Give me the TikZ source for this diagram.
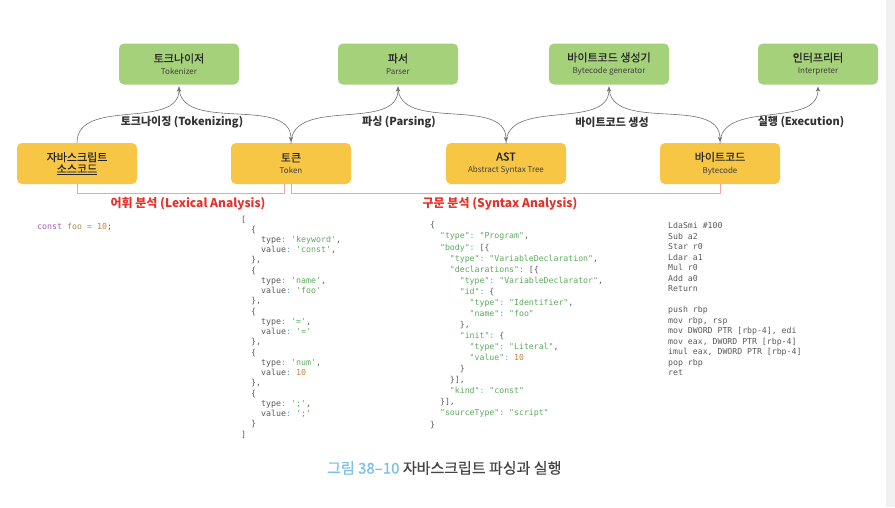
\documentclass[tikz,border=0pt]{standalone}
\usepackage{fontspec}
\setmainfont{Noto Sans CJK KR}
\newfontfamily\krmed[FakeBold=0.6]{Noto Sans CJK KR}
\setmonofont{DejaVu Sans Mono}
\usetikzlibrary{arrows.meta}
\definecolor{boxgreen}{HTML}{A6D17B}
\definecolor{boxyellow}{HTML}{F6C644}
\definecolor{arrowgray}{HTML}{707070}
\definecolor{brk}{HTML}{F4A3A3}
\definecolor{lblred}{HTML}{E8302A}
\definecolor{labeldark}{HTML}{333333}
\definecolor{titledark}{HTML}{262626}
\definecolor{subdark}{HTML}{404040}
\definecolor{codegray}{HTML}{5A5A5A}
\definecolor{cgreen}{HTML}{5DAA5D}
\definecolor{cblue}{HTML}{5AA8D8}
\definecolor{corange}{HTML}{C4843C}
\definecolor{cpurple}{HTML}{A45CB4}
\definecolor{cbrown}{HTML}{A8905A}
\definecolor{capblue}{HTML}{7CC0EA}
\definecolor{capgray}{HTML}{444444}
\definecolor{edgegray}{HTML}{F1F1F1}
\newcommand\ind[1]{\hspace*{\dimexpr\fontcharwd\font`x*#1\relax}}
\newcommand\cs[1]{\textcolor{cgreen}{#1}}
\newcommand\cl{\textcolor{cblue}{:}}
\newcommand\cn[1]{\textcolor{corange}{#1}}
\newcommand\ttl[1]{{\krmed\fontsize{11}{12}\selectfont\color{titledark}#1}}
\newcommand\sub[1]{{\color{subdark}#1}}
\begin{document}
\begin{tikzpicture}[x=1pt,y=-1pt,
  gbox/.style={draw=none, fill=boxgreen, rounded corners=5pt, minimum width=120pt, minimum height=41pt, inner sep=0pt, align=center, font=\fontsize{8}{12}\selectfont},
  ybox/.style={gbox, fill=boxyellow},
  flow/.style={draw=arrowgray, line width=0.6pt, -{Stealth[length=5pt,width=4.5pt]}, shorten >=2pt},
  steplbl/.style={font=\bfseries\fontsize{11}{13}\selectfont, text=labeldark, inner sep=0pt},
  bracket/.style={draw=brk, line width=0.8pt},
  redlbl/.style={font=\bfseries\fontsize{12}{14}\selectfont, text=lblred, inner sep=0pt},
  code/.style={anchor=north west, align=left, inner sep=0pt, text=codegray}
]
\useasboundingbox (0,0) rectangle (895,507);
\fill[white] (0,0) rectangle (895,507);
\fill[edgegray] (886,0) rectangle (895,507);

% top boxes
\node[gbox] (tokenizer) at (179,64) {\ttl{토크나이저}\\\sub{Tokenizer}};
\node[gbox] (parser) at (398,64) {\ttl{파서}\\\sub{Parser}};
\node[gbox] (bytegen) at (609,64) {\ttl{바이트코드 생성기}\\\sub{Bytecode generator}};
\node[gbox] (interp) at (818,64) {\ttl{인터프리터}\\\sub{Interpreter}};

% middle boxes
\node[ybox, font=\fontsize{11}{11.5}\selectfont] (src) at (77,163.5) {\ttl{자바스크립트}\\\ttl{\underline{소스코드}}};
\node[ybox] (token) at (291,163.5) {\ttl{토큰}\\\sub{Token}};
\node[ybox] (ast) at (506,163.5) {\ttl{AST}\\\sub{Abstract Syntax Tree}};
\node[ybox] (bytecode) at (720,163.5) {\ttl{바이트코드}\\\sub{Bytecode}};

% flows
\draw[flow] (src.north) to[out=90,in=-90] (tokenizer.south);
\draw[flow, shorten <=2pt] (tokenizer.south) to[out=-90,in=90] ([yshift=-1pt]token.north);
\draw[flow] ([yshift=-1pt]token.north) to[out=90,in=-90] (parser.south);
\draw[flow, shorten <=2pt] (parser.south) to[out=-90,in=90] ([yshift=-1pt]ast.north);
\draw[flow] ([yshift=-1pt]ast.north) to[out=90,in=-90] (bytegen.south);
\draw[flow, shorten <=2pt] (bytegen.south) to[out=-90,in=90] ([yshift=-1pt]bytecode.north);
\draw[flow] ([yshift=-1pt]bytecode.north) to[out=90,in=-90] (interp.south);

\node[steplbl] (l1) at (182,122) {토크나이징 (Tokenizing)};
\node[steplbl] (l2) at (399,122) {파싱 (Parsing)};
\node[steplbl] (l3) at (612,122) {바이트코드 생성};
\node[steplbl] (l4) at (801,122) {실행 (Execution)};

% brackets
\draw[bracket] (src.south) -- ++(0,9.5) -| ([xshift=-7pt]token.south);
\draw[bracket] (token.south) -- ++(0,9.5) -| (bytecode.south);
\node[redlbl] (lex) at (188,204) {어휘 분석 (Lexical Analysis)};
\node[redlbl] (syn) at (500,204) {구문 분석 (Syntax Analysis)};

% code: source
\node[code, font=\ttfamily\fontsize{8.3}{10.24}\selectfont] (srccode) at (37,222.5) {\textcolor{cpurple}{const} \textcolor{cbrown}{foo} \textcolor{cblue}{=} \cn{10};};

% code: tokens
\node[code, font=\ttfamily\fontsize{8.3}{10.24}\selectfont] (tokcode) at (241,215.5) {[\\
\ind{2}\{\\
\ind{4}type\cl{} \cs{'keyword'},\\
\ind{4}value\cl{} \cs{'const'},\\
\ind{2}\},\\
\ind{2}\{\\
\ind{4}type\cl{} \cs{'name'},\\
\ind{4}value\cl{} \cs{'foo'}\\
\ind{2}\},\\
\ind{2}\{\\
\ind{4}type\cl{} \cs{'='},\\
\ind{4}value\cl{} \cs{'='}\\
\ind{2}\},\\
\ind{2}\{\\
\ind{4}type\cl{} \cs{'num'},\\
\ind{4}value\cl{} \cn{10}\\
\ind{2}\},\\
\ind{2}\{\\
\ind{4}type\cl{} \cs{';'},\\
\ind{4}value\cl{} \cs{';'}\\
\ind{2}\}\\
]};

% code: AST
\node[code, font=\ttfamily\fontsize{8.2}{11.06}\selectfont] (astcode) at (430,221.5) {\{\\
\ind{2}\cs{"type"}\cl{} \cs{"Program"},\\
\ind{2}\cs{"body"}\cl{} [\{\\
\ind{4}\cs{"type"}\cl{} \cs{"VariableDeclaration"},\\
\ind{4}\cs{"declarations"}\cl{} [\{\\
\ind{6}\cs{"type"}\cl{} \cs{"VariableDeclarator"},\\
\ind{6}\cs{"id"}\cl{} \{\\
\ind{8}\cs{"type"}\cl{} \cs{"Identifier"},\\
\ind{8}\cs{"name"}\cl{} \cs{"foo"}\\
\ind{6}\},\\
\ind{6}\cs{"init"}\cl{} \{\\
\ind{8}\cs{"type"}\cl{} \cs{"Literal"},\\
\ind{8}\cs{"value"}\cl{} \cn{10}\\
\ind{6}\}\\
\ind{4}\}],\\
\ind{4}\cs{"kind"}\cl{} \cs{"const"}\\
\ind{2}\}],\\
\ind{2}\cs{"sourceType"}\cl{} \cs{"script"}\\
\}};

% code: bytecode / machine code
\node[code, font=\ttfamily\fontsize{8.2}{10.5}\selectfont] (bccode) at (668,222.5) {LdaSmi \#100\\
Sub a2\\
Star r0\\
Ldar a1\\
Mul r0\\
Add a0\\
Return\\
\mbox{}\\
push rbp\\
mov rbp, rsp\\
mov DWORD PTR [rbp-4], edi\\
mov eax, DWORD PTR [rbp-4]\\
imul eax, DWORD PTR [rbp-4]\\
pop rbp\\
ret};

% caption
\node[anchor=west, inner sep=0pt, font=\krmed\fontsize{15}{17}\selectfont] (cap) at (327,468) {\textcolor{capblue}{그림 38–10} \textcolor{capgray}{자바스크립트 파싱과 실행}};
\end{tikzpicture}
\end{document}
